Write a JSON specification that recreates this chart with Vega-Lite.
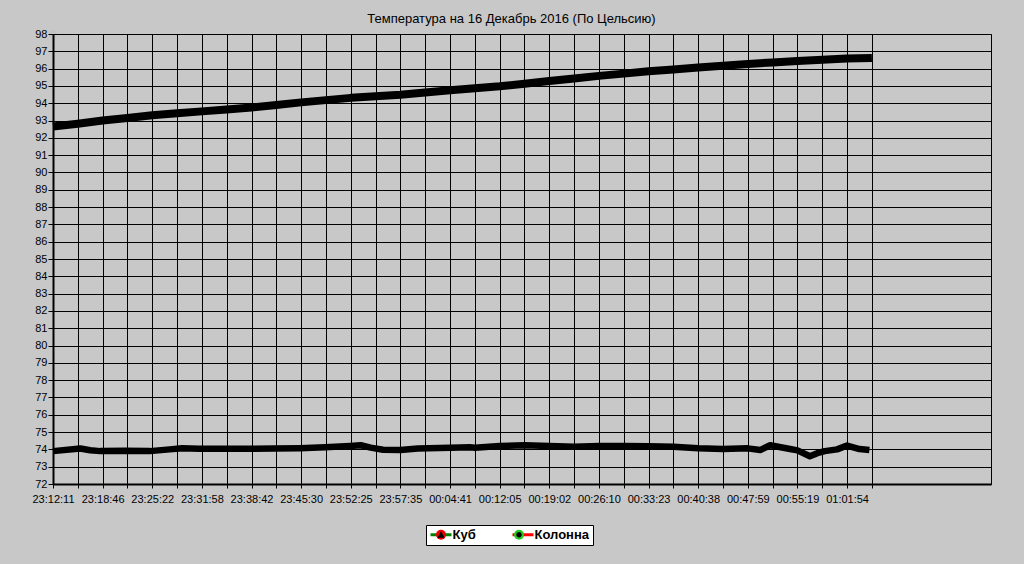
{
  "$schema": "https://vega.github.io/schema/vega-lite/v6.json",
  "width": 938,
  "height": 450,
  "autosize": {"type": "none"},
  "padding": {"left": 53, "top": 34, "right": 33, "bottom": 80},
  "background": "#c8c8c8",
  "title": {
    "text": "Температура на 16 Декабрь 2016 (По Цельсию)",
    "font": "Liberation Sans",
    "fontSize": 13,
    "fontWeight": "normal",
    "color": "black",
    "anchor": "middle",
    "frame": "bounds",
    "offset": 1
  },
  "config": {
    "view": {"stroke": "black", "strokeWidth": 1},
    "axis": {
      "title": null,
      "grid": true,
      "gridColor": "black",
      "gridOpacity": 1,
      "gridWidth": 1,
      "domainColor": "black",
      "domainWidth": 2,
      "tickColor": "black",
      "tickWidth": 1,
      "labelFont": "Liberation Sans",
      "labelFontSize": 11,
      "labelColor": "black",
      "labelOverlap": false,
      "labelFlush": false,
      "labelBound": false
    }
  },
  "datasets": {
    "temps": [
      {"i": 0, "series": "Куб", "t": 92.65},
      {"i": 1, "series": "Куб", "t": 92.82},
      {"i": 2, "series": "Куб", "t": 93.0},
      {"i": 3, "series": "Куб", "t": 93.15},
      {"i": 4, "series": "Куб", "t": 93.31},
      {"i": 5, "series": "Куб", "t": 93.42},
      {"i": 6, "series": "Куб", "t": 93.53},
      {"i": 7, "series": "Куб", "t": 93.64},
      {"i": 8, "series": "Куб", "t": 93.75},
      {"i": 9, "series": "Куб", "t": 93.9},
      {"i": 10, "series": "Куб", "t": 94.05},
      {"i": 11, "series": "Куб", "t": 94.18},
      {"i": 12, "series": "Куб", "t": 94.31},
      {"i": 13, "series": "Куб", "t": 94.4},
      {"i": 14, "series": "Куб", "t": 94.49},
      {"i": 15, "series": "Куб", "t": 94.62},
      {"i": 16, "series": "Куб", "t": 94.75},
      {"i": 17, "series": "Куб", "t": 94.87},
      {"i": 18, "series": "Куб", "t": 94.98},
      {"i": 19, "series": "Куб", "t": 95.13},
      {"i": 20, "series": "Куб", "t": 95.29},
      {"i": 21, "series": "Куб", "t": 95.43},
      {"i": 22, "series": "Куб", "t": 95.58},
      {"i": 23, "series": "Куб", "t": 95.71},
      {"i": 24, "series": "Куб", "t": 95.85},
      {"i": 25, "series": "Куб", "t": 95.95},
      {"i": 26, "series": "Куб", "t": 96.06},
      {"i": 27, "series": "Куб", "t": 96.17},
      {"i": 28, "series": "Куб", "t": 96.27},
      {"i": 29, "series": "Куб", "t": 96.36},
      {"i": 30, "series": "Куб", "t": 96.44},
      {"i": 31, "series": "Куб", "t": 96.51},
      {"i": 32, "series": "Куб", "t": 96.58},
      {"i": 33, "series": "Куб", "t": 96.62},
      {"i": 0, "series": "Колонна", "t": 73.9},
      {"i": 1.1, "series": "Колонна", "t": 74.05},
      {"i": 1.5, "series": "Колонна", "t": 73.95},
      {"i": 1.9, "series": "Колонна", "t": 73.9},
      {"i": 2.9, "series": "Колонна", "t": 73.92},
      {"i": 3.9, "series": "Колонна", "t": 73.9},
      {"i": 4.7, "series": "Колонна", "t": 74.0},
      {"i": 5.2, "series": "Колонна", "t": 74.06},
      {"i": 5.9, "series": "Колонна", "t": 74.03},
      {"i": 6.9, "series": "Колонна", "t": 74.03},
      {"i": 7.9, "series": "Колонна", "t": 74.03},
      {"i": 8.9, "series": "Колонна", "t": 74.05},
      {"i": 9.95, "series": "Колонна", "t": 74.07},
      {"i": 10.96, "series": "Колонна", "t": 74.12},
      {"i": 11.97, "series": "Колонна", "t": 74.2},
      {"i": 12.4, "series": "Колонна", "t": 74.24},
      {"i": 12.8, "series": "Колонна", "t": 74.1},
      {"i": 13.3, "series": "Колонна", "t": 73.98},
      {"i": 14.0, "series": "Колонна", "t": 73.97},
      {"i": 14.7, "series": "Колонна", "t": 74.05},
      {"i": 16.0, "series": "Колонна", "t": 74.1},
      {"i": 16.8, "series": "Колонна", "t": 74.12},
      {"i": 17.0, "series": "Колонна", "t": 74.1},
      {"i": 18.0, "series": "Колонна", "t": 74.2},
      {"i": 19.0, "series": "Колонна", "t": 74.24},
      {"i": 20.0, "series": "Колонна", "t": 74.2},
      {"i": 21.0, "series": "Колонна", "t": 74.15},
      {"i": 22.0, "series": "Колонна", "t": 74.2},
      {"i": 23.0, "series": "Колонна", "t": 74.2},
      {"i": 24.0, "series": "Колонна", "t": 74.18},
      {"i": 25.0, "series": "Колонна", "t": 74.15},
      {"i": 26.0, "series": "Колонна", "t": 74.06},
      {"i": 27.0, "series": "Колонна", "t": 74.02},
      {"i": 28.0, "series": "Колонна", "t": 74.06},
      {"i": 28.5, "series": "Колонна", "t": 73.96},
      {"i": 28.9, "series": "Колонна", "t": 74.24},
      {"i": 29.7, "series": "Колонна", "t": 74.02},
      {"i": 30.0, "series": "Колонна", "t": 73.94},
      {"i": 30.5, "series": "Колонна", "t": 73.6},
      {"i": 30.8, "series": "Колонна", "t": 73.78},
      {"i": 31.1, "series": "Колонна", "t": 73.9},
      {"i": 31.6, "series": "Колонна", "t": 74.0},
      {"i": 32.0, "series": "Колонна", "t": 74.22},
      {"i": 32.5, "series": "Колонна", "t": 74.02},
      {"i": 32.9, "series": "Колонна", "t": 73.96}
    ],
    "keys": [
      {"series": "Куб", "entry": "Куб"},
      {"series": "Колонна", "entry": "Колонна"}
    ]
  },
  "encoding": {
    "x": {
      "field": "i",
      "type": "quantitative",
      "scale": {"domain": [0, 37.8], "nice": false, "zero": false},
      "axis": {
        "values": [0,1,2,3,4,5,6,7,8,9,10,11,12,13,14,15,16,17,18,19,20,21,22,23,24,25,26,27,28,29,30,31,32,33],
        "labelExpr": "datum.value % 2 == 0 ? ['23:12:11','23:18:46','23:25:22','23:31:58','23:38:42','23:45:30','23:52:25','23:57:35','00:04:41','00:12:05','00:19:02','00:26:10','00:33:23','00:40:38','00:47:59','00:55:19','01:01:54'][datum.value / 2] : ''",
        "tickSize": 4,
        "labelPadding": 5
      }
    },
    "y": {
      "field": "t",
      "type": "quantitative",
      "scale": {"domain": [72, 98], "nice": false, "zero": false},
      "axis": {
        "values": [72,73,74,75,76,77,78,79,80,81,82,83,84,85,86,87,88,89,90,91,92,93,94,95,96,97,98],
        "tickSize": 5,
        "labelPadding": 1
      }
    }
  },
  "layer": [
    {
      "data": {"name": "temps"},
      "transform": [{"filter": "datum.series == 'Куб'"}],
      "mark": {"type": "line", "color": "black", "strokeWidth": 8, "strokeJoin": "round", "strokeCap": "butt"}
    },
    {
      "data": {"name": "temps"},
      "transform": [{"filter": "datum.series == 'Колонна'"}],
      "mark": {"type": "line", "color": "black", "strokeWidth": 6.5, "strokeJoin": "round", "strokeCap": "butt"}
    },
    {
      "data": {"name": "keys"},
      "mark": {"type": "point", "opacity": 0.01},
      "encoding": {
        "x": {"value": 0},
        "y": {"value": 0},
        "stroke": {
          "field": "series",
          "type": "nominal",
          "sort": ["Куб", "Колонна"],
          "scale": {"range": ["#008000", "#ff0000"]},
          "legend": {
            "orient": "none",
            "legendX": 373,
            "legendY": 491,
            "direction": "horizontal",
            "title": null,
            "symbolType": "M-2.1,0H2.1",
            "symbolSize": 100,
            "symbolStrokeWidth": 3,
            "symbolOpacity": 1,
            "symbolOffset": 5.5,
            "labelOffset": 5,
            "labelFont": "Liberation Sans",
            "labelFontSize": 13,
            "labelFontWeight": "bold",
            "labelColor": "black",
            "columnPadding": 30,
            "padding": 3,
            "fillColor": "white",
            "strokeColor": "black"
          }
        }
      }
    },
    {
      "data": {"name": "keys"},
      "mark": {"type": "point", "filled": true, "opacity": 0.01},
      "encoding": {
        "x": {"value": 0},
        "y": {"value": 0},
        "color": {
          "field": "entry",
          "type": "nominal",
          "sort": ["Куб", "Колонна"],
          "scale": {"range": ["#ee0000", "#22cc22"]},
          "legend": {
            "orient": "none",
            "legendX": 373,
            "legendY": 491,
            "direction": "horizontal",
            "title": null,
            "symbolSize": 100,
            "symbolStrokeWidth": 0,
            "symbolOpacity": 1,
            "symbolOffset": 5.5,
            "labelOffset": 5,
            "labelFont": "Liberation Sans",
            "labelFontSize": 13,
            "labelFontWeight": "bold",
            "labelExpr": "''",
            "columnPadding": 54,
            "padding": 3,
            "zindex": 1
          }
        },
        "shape": {
          "field": "entry",
          "type": "nominal",
          "sort": ["Куб", "Колонна"],
          "scale": {"range": ["M-0.7,0.6L0,-0.7L0.7,0.6Z", "M0.55,0A0.55,0.55 0 1,1 -0.55,0A0.55,0.55 0 1,1 0.55,0Z"]},
          "legend": {
            "orient": "none",
            "legendX": 373,
            "legendY": 491,
            "direction": "horizontal",
            "title": null,
            "symbolSize": 100,
            "symbolStrokeWidth": 0,
            "symbolOpacity": 1,
            "symbolOffset": 5.5,
            "labelOffset": 5,
            "labelFont": "Liberation Sans",
            "labelFontSize": 13,
            "labelFontWeight": "bold",
            "labelExpr": "''",
            "columnPadding": 54,
            "padding": 3,
            "zindex": 1
          }
        }
      }
    }
  ]
}
